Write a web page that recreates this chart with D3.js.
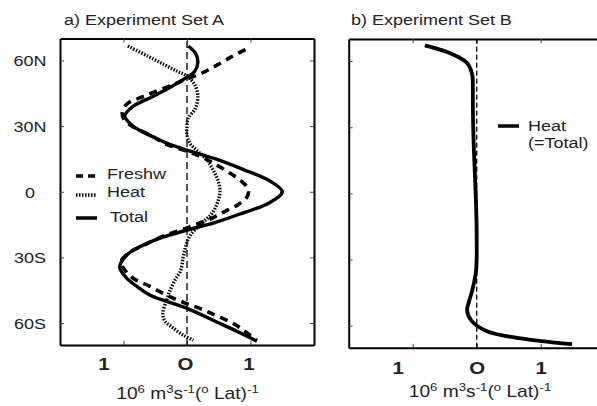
<!DOCTYPE html>
<html>
<head>
<meta charset="utf-8">
<script src="https://cdn.jsdelivr.net/npm/d3@7"></script>
<style>
  body { margin: 0; background: #fff; }
  svg text { font-family: "Liberation Sans", Arial, Helvetica, sans-serif; fill: #222; }
</style>
</head>
<body>
<div id="chart"></div>
<script>
// ---- data (latitude in degrees, transport in 10^6 m3 s-1 per deg lat)
var latTotalA = [66.6, 63, 58.8, 55, 52.4, 48, 43.7, 39, 34.6, 30, 25, 22, 19, 15, 10, 5, 0, -5, -10, -14, -17.5, -21, -24.4, -29, -34.4, -39.5, -43.5, -47.3, -53.3, -60.2, -64, -68.3];
var totalA    = [0.02, 0.14, 0.17, 0.12, 0, -0.25, -0.53, -0.85, -0.98, -0.85, -0.53, -0.3, 0, 0.45, 0.9, 1.3, 1.5, 1.3, 0.85, 0.45, 0, -0.4, -0.69, -0.95, -1.06, -0.95, -0.78, -0.58, 0, 0.52, 0.8, 1.1];

var latHeatA = [66.6, 62, 58, 55, 52.9, 49, 44, 38, 33.7, 30, 26, 22, 19, 15, 10, 5, 0, -5, -10, -14, -17.5, -21, -25, -30, -36, -40.4, -46, -49.5, -55.5, -59, -61.8, -65.5, -67.8];
var heatA    = [-0.93, -0.62, -0.35, -0.15, 0, 0.12, 0.17, 0.13, 0.02, 0, 0, 0.05, 0.15, 0.3, 0.41, 0.49, 0.52, 0.48, 0.39, 0.25, 0.12, 0.03, -0.02, -0.06, -0.1, -0.19, -0.28, -0.32, -0.38, -0.35, -0.24, -0.06, 0.1];

var latFreshA = [65, 62, 58, 54.3, 51, 48, 44, 40, 36, 33, 30, 26, 22, 19, 16, 13, 9, 5, 2, 0, -3, -6, -9, -12, -16.5, -20, -24, -28, -32, -35, -39.5, -43, -47.3, -50.5, -53.3, -56.5, -60.2, -64, -68];
var freshA    = [0.92, 0.72, 0.48, 0.24, -0.05, -0.3, -0.65, -0.95, -1.02, -0.99, -0.87, -0.58, -0.35, -0.05, 0.22, 0.42, 0.65, 0.85, 0.95, 0.97, 0.93, 0.8, 0.6, 0.4, 0, -0.35, -0.65, -0.92, -1.04, -1.0, -0.85, -0.6, -0.32, -0.06, 0.2, 0.45, 0.73, 0.92, 1.1];

var latHeatB = [67.1, 63.6, 59.1, 53.8, 48, 40, 25, 10, -5, -20, -35, -44, -49, -53, -57.8, -62.5, -65.5, -67.4, -68.3];
var heatB    = [-0.81, -0.42, -0.15, -0.07, -0.06, -0.06, -0.05, -0.03, -0.01, 0, -0.01, -0.07, -0.12, -0.15, -0.08, 0.16, 0.63, 1.15, 1.49];

var latTicks = [60, 30, 0, -30, -60];
var latTickLabels = ["60N", "30N", "0", "30S", "60S"];
var xTicks = [-1, 0, 1];
var xTickLabels = ["1", "O", "1"];

var SX = 1.2; // the original lettering is stretched sideways
var W = 597, H = 406;

var svg = d3.select("#chart").append("svg")
  .attr("width", W)
  .attr("height", H);

function zip(lats, vals) {
  return lats.map(function(l, i) { return { lat: l, v: vals[i] }; });
}

function drawPanel(p) {
  var x = d3.scaleLinear().domain([-2, 2]).range([p.left, p.right]);
  var y = d3.scaleLinear().domain([-70, 70]).range([p.bottom, p.top]);
  var g = svg.append("g");

  // frame + ticks (all ticks point inward)
  var left = g.append("g").attr("transform", "translate(" + p.left + ",0)")
    .call(d3.axisLeft(y).tickValues(latTicks).tickSize(-4).tickSizeOuter(0)
      .tickFormat(function(d, i) { return p.yLabels ? latTickLabels[i] : ""; }));
  var right = g.append("g").attr("transform", "translate(" + p.right + ",0)")
    .call(d3.axisRight(y).tickValues(latTicks).tickSize(-4).tickSizeOuter(0).tickFormat(""));
  var top = g.append("g").attr("transform", "translate(0," + p.top + ")")
    .call(d3.axisTop(x).tickValues(xTicks).tickSize(-4).tickSizeOuter(0).tickFormat(""));
  var bottom = g.append("g").attr("transform", "translate(0," + p.bottom + ")")
    .call(d3.axisBottom(x).tickValues(xTicks).tickSize(-4).tickSizeOuter(0)
      .tickFormat(function(d, i) { return xTickLabels[i]; }));

  [left, right, top, bottom].forEach(function(a) {
    a.select(".domain").attr("stroke", "#000").attr("stroke-width", 2);
    a.selectAll(".tick line").attr("stroke", "#444").attr("stroke-width", 1);
  });

  left.selectAll(".tick text")
    .attr("x", -30 / SX).attr("dy", "0.36em")
    .attr("text-anchor", "middle")
    .attr("transform", "scale(" + SX + ",1)")
    .style("font-size", "15px").attr("fill", "#222");

  bottom.selectAll(".tick text")
    .attr("y", p.labelBase).attr("dy", 0)
    .attr("x", function(d) { return (d === -1 ? p.leftLabelDx : p.labelDx) / SX; })
    .attr("transform", "scale(" + SX + ",1)")
    .style("font-size", "17px").style("font-weight", "bold").attr("fill", "#111");

  // zero line
  g.append("line")
    .attr("x1", x(0)).attr("x2", x(0))
    .attr("y1", y(-70)).attr("y2", y(70))
    .attr("stroke", "#000").attr("stroke-width", 1.3)
    .attr("stroke-dasharray", p.zeroDash);

  var line = d3.line()
    .x(function(d) { return x(d.v); })
    .y(function(d) { return y(d.lat); })
    .curve(d3.curveCatmullRom.alpha(0.5));

  p.series.forEach(function(s) {
    g.append("path")
      .datum(zip(s.lat, s.vals))
      .attr("d", line)
      .attr("fill", "none")
      .attr("stroke", "#000")
      .attr("stroke-width", s.width)
      .attr("stroke-dasharray", s.dash)
      .attr("stroke-linecap", "butt");
  });

  // title
  g.append("text")
    .attr("transform", "translate(" + p.titleX + ",25) scale(" + SX + ",1)")
    .style("font-size", "15px")
    .text(p.title);

  // x axis label with superscripts
  var lab = g.append("text")
    .attr("transform", "translate(" + p.xLabelX + "," + p.xLabelY + ") scale(" + SX + ",1)")
    .attr("text-anchor", "middle")
    .style("font-size", "16px");
  var parts = [["10", 0], ["6", 1], [" m", 0], ["3", 1], ["s", 0], ["-1", 1], ["(", 0], ["o", 1], [" Lat)", 0], ["-1", 1]];
  var prevSup = 0;
  parts.forEach(function(pt) {
    var shift = (pt[1] - prevSup) * -6;
    lab.append("tspan")
      .attr("dy", shift)
      .style("font-size", pt[1] ? "11px" : "16px")
      .text(pt[0]);
    prevSup = pt[1];
  });

  // legend
  p.legend.forEach(function(l) {
    if (l.sample) {
      g.append("line")
        .attr("x1", l.sx1).attr("x2", l.sx2)
        .attr("y1", l.sy).attr("y2", l.sy)
        .attr("stroke", "#000").attr("stroke-width", 3.5)
        .attr("stroke-dasharray", l.dash);
    }
    g.append("text")
      .attr("transform", "translate(" + l.tx + "," + l.ty + ") scale(" + SX + ",1)")
      .style("font-size", "15px")
      .text(l.text);
  });
}

drawPanel({
  left: 60, right: 314, top: 38.6, bottom: 344.9,
  yLabels: true, labelBase: 25, leftLabelDx: -20, labelDx: -2,
  zeroDash: "7,4",
  title: "a) Experiment Set A", titleX: 64,
  xLabelX: 187.5, xLabelY: 399,
  series: [
    { lat: latHeatA, vals: heatA, width: 3.4, dash: "1.5,1.5" },
    { lat: latFreshA, vals: freshA, width: 3.6, dash: "8,6" },
    { lat: latTotalA, vals: totalA, width: 3.4, dash: null }
  ],
  legend: [
    { sample: true, sx1: 76, sx2: 97, sy: 176, dash: "7,5", text: "Freshw", tx: 107, ty: 179 },
    { sample: true, sx1: 76, sx2: 97, sy: 195, dash: "1.5,1.5", text: "Heat", tx: 107, ty: 197 },
    { sample: true, sx1: 76, sx2: 97, sy: 218, dash: null, text: "Total", tx: 110, ty: 222 }
  ]
});

drawPanel({
  left: 348.7, right: 604.7, top: 39, bottom: 347.8,
  yLabels: false, labelBase: 26, leftLabelDx: -15, labelDx: 0,
  zeroDash: "5,3",
  title: "b) Experiment Set B", titleX: 351,
  xLabelX: 480, xLabelY: 397,
  series: [
    { lat: latHeatB, vals: heatB, width: 3.8, dash: null }
  ],
  legend: [
    { sample: true, sx1: 498, sx2: 519, sy: 126, dash: null, text: "Heat", tx: 528, ty: 131 },
    { sample: false, text: "(=Total)", tx: 528, ty: 148 }
  ]
});
</script>
</body>
</html>
